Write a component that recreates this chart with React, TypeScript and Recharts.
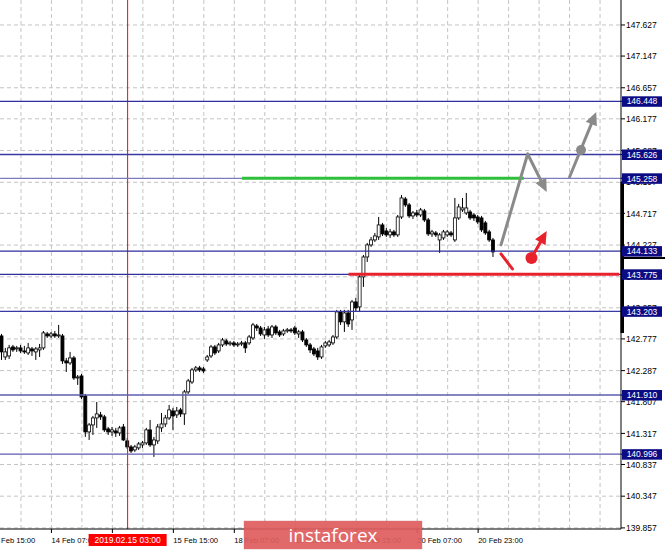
import React from "react";
import {
  Bar,
  CartesianGrid,
  ComposedChart,
  ReferenceDot,
  ReferenceLine,
  XAxis,
  YAxis,
} from "recharts";

// H1 candles, 13 Feb 18:00 .. 21 Feb 03:00
const open = [
  142.823, 142.498, 142.514, 142.653, 142.622, 142.638, 142.591, 142.56, 142.622, 142.576,
  142.607, 142.638, 142.854, 142.823, 142.854, 142.823, 142.823, 142.437, 142.406, 142.483,
  142.174, 142.205, 141.896, 141.34, 141.448, 141.556, 141.603, 141.572, 141.386, 141.34,
  141.355, 141.324, 141.417, 141.201, 141.108, 141.062, 141.093, 141.139, 141.17, 141.371,
  141.139, 141.201, 141.402, 141.463, 141.556, 141.664, 141.603, 141.68, 141.618, 141.958,
  142.112, 142.298, 142.329, 142.313, 142.452, 142.514, 142.653, 142.591, 142.684, 142.746,
  142.699, 142.715, 142.684, 142.699, 142.715, 142.715, 142.792, 142.977, 142.946, 142.838,
  142.931, 142.838, 142.962, 142.885, 142.854, 142.9, 142.916, 142.946, 142.854, 142.885,
  142.761, 142.684, 142.622, 142.591, 142.498, 142.669, 142.684, 142.715, 142.807, 143.194,
  143.04, 143.178, 143.07, 143.348, 143.271, 143.735, 144.043, 144.229, 144.306, 144.353,
  144.538, 144.445, 144.384, 144.43, 144.384, 144.661, 144.939, 144.847, 144.677, 144.723,
  144.692, 144.754, 144.615, 144.399, 144.414, 144.306, 144.337, 144.384, 144.414, 144.306,
  144.646, 144.77, 144.723, 144.738, 144.692, 144.661, 144.646, 144.569, 144.43, 144.306,
];
const high = [
  142.854, 142.638, 142.684, 142.684, 142.669, 142.684, 142.669, 142.715, 142.653, 142.653,
  142.699, 142.9, 142.885, 142.885, 142.9, 142.993, 142.854, 142.483, 142.576, 142.514,
  142.22, 142.236, 141.927, 141.479, 141.587, 141.803, 141.649, 141.603, 141.417, 141.417,
  141.402, 141.433, 141.463, 141.247, 141.139, 141.139, 141.185, 141.201, 141.402, 141.525,
  141.263, 141.463, 141.633, 141.603, 141.757, 141.711, 141.726, 141.711, 141.989, 142.159,
  142.329, 142.36, 142.36, 142.344, 142.529, 142.684, 142.684, 142.715, 142.792, 142.777,
  142.746, 142.746, 142.73, 142.746, 142.746, 142.838, 143.024, 143.008, 142.977, 142.962,
  142.977, 142.993, 142.993, 142.916, 142.931, 142.946, 142.946, 142.977, 142.916, 142.916,
  142.792, 142.715, 142.653, 142.638, 142.684, 142.746, 142.761, 142.838, 143.225, 143.225,
  143.225, 143.225, 143.379, 143.41, 143.765, 144.074, 144.26, 144.353, 144.414, 144.661,
  144.569, 144.491, 144.476, 144.461, 144.692, 145.001, 144.97, 144.877, 144.754, 144.77,
  144.8, 144.785, 144.646, 144.461, 144.445, 144.414, 144.461, 144.461, 144.445, 144.955,
  144.862, 144.955, 145.032, 144.77, 144.723, 144.692, 144.677, 144.6, 144.461, 144.337,
];
const low = [
  142.452, 142.452, 142.467, 142.576, 142.576, 142.56, 142.545, 142.529, 142.514, 142.452,
  142.498, 142.607, 142.792, 142.792, 142.792, 142.792, 142.391, 142.267, 142.375, 142.143,
  142.066, 141.849, 141.263, 141.216, 141.293, 141.402, 141.525, 141.34, 141.293, 141.278,
  141.263, 141.278, 141.201, 141.077, 141.015, 141.031, 141.062, 141.093, 141.139, 141.108,
  140.954, 141.154, 141.34, 141.417, 141.525, 141.371, 141.556, 141.572, 141.448, 141.927,
  142.081, 142.267, 142.267, 142.251, 142.421, 142.483, 142.529, 142.56, 142.653, 142.669,
  142.669, 142.653, 142.653, 142.669, 142.56, 142.684, 142.761, 142.9, 142.823, 142.777,
  142.807, 142.792, 142.838, 142.807, 142.823, 142.87, 142.87, 142.838, 142.792, 142.73,
  142.653, 142.56, 142.514, 142.452, 142.467, 142.638, 142.653, 142.684, 142.777, 142.993,
  142.885, 142.962, 142.916, 143.209, 143.194, 143.58, 143.966, 144.198, 144.275, 144.306,
  144.368, 144.353, 144.337, 144.353, 144.353, 144.63, 144.816, 144.646, 144.63, 144.661,
  144.661, 144.584, 144.368, 144.353, 144.353, 144.105, 144.306, 144.353, 144.353, 144.275,
  144.615, 144.738, 144.692, 144.615, 144.6, 144.553, 144.43, 144.384, 144.275, 144.043,
];
const close = [
  142.576, 142.576, 142.638, 142.607, 142.638, 142.591, 142.576, 142.638, 142.591, 142.622,
  142.638, 142.87, 142.823, 142.854, 142.823, 142.838, 142.437, 142.406, 142.483, 142.174,
  142.189, 141.88, 141.34, 141.448, 141.556, 141.618, 141.572, 141.371, 141.34, 141.371,
  141.324, 141.402, 141.216, 141.108, 141.046, 141.108, 141.154, 141.17, 141.371, 141.139,
  141.216, 141.417, 141.463, 141.556, 141.68, 141.587, 141.664, 141.618, 141.958, 142.128,
  142.298, 142.329, 142.298, 142.282, 142.498, 142.653, 142.56, 142.684, 142.761, 142.699,
  142.715, 142.684, 142.699, 142.715, 142.638, 142.807, 142.993, 142.946, 142.854, 142.916,
  142.838, 142.962, 142.87, 142.838, 142.9, 142.916, 142.9, 142.87, 142.885, 142.761,
  142.684, 142.607, 142.545, 142.498, 142.653, 142.715, 142.73, 142.807, 143.194, 143.04,
  143.178, 143.008, 143.348, 143.256, 143.735, 144.043, 144.229, 144.306, 144.368, 144.538,
  144.399, 144.384, 144.43, 144.384, 144.661, 144.955, 144.847, 144.677, 144.723, 144.692,
  144.77, 144.615, 144.399, 144.43, 144.384, 144.384, 144.43, 144.43, 144.384, 144.646,
  144.816, 144.8, 144.8, 144.646, 144.646, 144.584, 144.461, 144.414, 144.306, 144.121,
];

const SLOTS = 163; // candles + empty space on the right
const gridIdx = Array.from({ length: 20 }, (_, k) => 5 + k * 8);
const xTickIdx = [13, 29, 45, 61, 77, 93, 109, 125];
const xTickLabels = [
  "14 Feb 07:00",
  "14 Feb 23:00",
  "15 Feb 15:00",
  "18 Feb 07:00",
  "18 Feb 23:00",
  "19 Feb 15:00",
  "20 Feb 07:00",
  "20 Feb 23:00",
];
const firstLabel = "13 Feb 15:00";

const yTicks = [
  147.627, 147.147, 146.657, 146.177, 145.687, 145.197, 144.717, 144.227, 143.737,
  143.257, 142.777, 142.287, 141.807, 141.317, 140.837, 140.347, 139.857,
];
const levels = [146.448, 145.626, 145.258, 144.133, 143.775, 143.203, 141.91, 140.996];
const levelColors = ["#2e2e9c", "#3a3aa4", "#7c7cc0", "#2e2e9c", "#2e2e9c", "#3a3aa4", "#5c5cb0", "#5c5cb0"];

const cursorIdx = 33;
const cursorLabel = "2019.02.15 03:00";
const green = { from: 63, to: 137, price: 145.258 };
const redLevel = { from: 91, to: 162, price: 143.775 };
const bidPrice = 144.027;
const rangeBar = [142.868, 145.201];
const Y_DOMAIN = [139.84, 148.013];

// forecast arrows: [index, price]
const grayUp = [
  [131, 144.229],
  [138, 145.634],
];
const grayDown = [
  [138, 145.634],
  [143, 145.047],
];
const grayBreak = [
  [149, 145.279],
  [156, 146.283],
];
const grayDot = [152, 145.696];
const redDash = [
  [131, 144.09],
  [134, 143.858],
];
const redArrow = [
  [139, 144.028],
  [143, 144.445],
];

const FONT = "'Liberation Sans', Arial, sans-serif";
const W = 665;
const H = 551;
const PLOT_W = 621;
const PLOT_H = 529;

const data = Array.from({ length: SLOTS }, (_, i) =>
  i < open.length
    ? { i, open: open[i], high: high[i], low: low[i], close: close[i] }
    : { i }
);

const Candle = (props: any) => {
  const { x, y, width, height, payload } = props;
  if (!payload || payload.high == null) return <g />;
  const top0 = Math.min(y, y + height);
  const h = Math.abs(height);
  const span = payload.high - payload.low || 1;
  const py = (p: number) => top0 + ((payload.high - p) / span) * h;
  const cx = x + width / 2;
  const bTop = py(Math.max(payload.open, payload.close));
  const bBot = py(Math.min(payload.open, payload.close));
  const bull = payload.close >= payload.open;
  return (
    <g>
      <line x1={cx} x2={cx} y1={top0} y2={top0 + h} stroke="#000" strokeWidth={1} />
      <rect
        x={x}
        y={bTop}
        width={width}
        height={Math.max(bBot - bTop, 1)}
        fill={bull ? "#fff" : "#000"}
        stroke="#000"
        strokeWidth={0.8}
      />
    </g>
  );
};

// x ticks: labels every 16 bars, cursor date box drawn last
const XTick = (props: any) => {
  const { x, y, payload } = props;
  if (payload.value === cursorIdx) {
    return (
      <g>
        <rect x={x - 39} y={y - 1} width={78} height={12} fill="#ff0000" />
        <text x={x} y={y + 8} textAnchor="middle" fontSize={8.5} fontFamily={FONT} fill="#fff">
          {cursorLabel}
        </text>
      </g>
    );
  }
  const k = xTickIdx.indexOf(payload.value);
  if (k < 0) return <g />;
  const band = PLOT_W / SLOTS;
  return (
    <g>
      <line x1={x} x2={x} y1={y - 6} y2={y - 2} stroke="#000" />
      <text x={x} y={y + 8} fontSize={7.6} fontFamily={FONT} fill="#000">
        {xTickLabels[k]}
      </text>
      {k === 0 && (
        <text x={x - 16 * band} y={y + 8} fontSize={7.6} fontFamily={FONT} fill="#000">
          {firstLabel}
        </text>
      )}
    </g>
  );
};

// y ticks: price scale, then the scale markers, then level boxes on top
const YTick = (props: any) => {
  const { x, y, payload } = props;
  const v = payload.value as number;
  const axisX = x - 5;
  if (v === rangeBar[1]) {
    const pxPerUnit = PLOT_H / (Y_DOMAIN[1] - Y_DOMAIN[0]);
    return (
      <rect x={axisX - 0.5} y={y} width={3.5} height={(rangeBar[1] - rangeBar[0]) * pxPerUnit} fill="#000" />
    );
  }
  if (v === bidPrice) {
    return <line x1={axisX} x2={W} y1={y} y2={y} stroke="#000" strokeWidth={2} />;
  }
  if (levels.includes(v)) {
    return (
      <g>
        <rect x={x - 4} y={y - 5} width={40} height={10.5} fill="#0b0b84" />
        <text x={x + 16} y={y + 3.2} textAnchor="middle" fontSize={8.5} fontFamily={FONT} fill="#fff">
          {v.toFixed(3)}
        </text>
      </g>
    );
  }
  return (
    <text x={x} y={y + 3.2} fontSize={8.5} fontFamily={FONT} fill="#000">
      {v.toFixed(3)}
    </text>
  );
};

const arrowShape = (color: string, width: number, head: boolean) => (p: any) => {
  const { x1, y1, x2, y2 } = p;
  if (![x1, y1, x2, y2].every((v) => typeof v === "number")) return <g />;
  const dx = x2 - x1;
  const dy = y2 - y1;
  const len = Math.hypot(dx, dy) || 1;
  const ux = dx / len;
  const uy = dy / len;
  const L = head ? 13 : 0;
  const bx = x2 - ux * L;
  const by = y2 - uy * L;
  const nx = -uy * 6;
  const ny = ux * 6;
  return (
    <g>
      <line x1={x1} y1={y1} x2={head ? bx + ux : x2} y2={head ? by + uy : y2} stroke={color} strokeWidth={width} strokeLinecap="round" />
      {head && (
        <polygon points={`${x2},${y2} ${bx + nx},${by + ny} ${bx - nx},${by - ny}`} fill={color} />
      )}
    </g>
  );
};

const seg = (pts: number[][]) => pts.map(([x, y]) => ({ x, y }));

export default function App() {
  return (
    <div
      style={{
        position: "absolute",
        left: 0,
        top: 0,
        width: W,
        height: H,
        background: "#fff",
        overflow: "hidden",
      }}
    >
      <ComposedChart
        width={W}
        height={H}
        data={data}
        margin={{ top: 0, right: 0, bottom: 0, left: 0 }}
      >
        <CartesianGrid
          stroke="#c4c4c4"
          strokeDasharray="4 3"
          horizontalValues={yTicks}
          verticalValues={gridIdx}
        />
        <XAxis
          dataKey="i"
          ticks={[...xTickIdx, cursorIdx]}
          interval={0}
          height={22}
          tickSize={4}
          tickMargin={2}
          tickLine={false}
          axisLine={{ stroke: "#000" }}
          tick={<XTick />}
        />
        <YAxis
          orientation="right"
          width={44}
          type="number"
          domain={Y_DOMAIN}
          allowDataOverflow
          ticks={[...yTicks, rangeBar[1], bidPrice, ...levels]}
          interval={0}
          tickSize={4}
          tickMargin={1}
          axisLine={{ stroke: "#000" }}
          tickLine={{ stroke: "#000" }}
          tick={<YTick />}
        />
        <Bar
          dataKey={(d: any) => (d.open == null ? null : [d.low, d.high])}
          barSize={3}
          shape={<Candle />}
          isAnimationActive={false}
        />
        <ReferenceLine x={cursorIdx} stroke="#ff0000" strokeWidth={1} />
        {levels.map((v, k) => (
          <ReferenceLine key={v} y={v} stroke={levelColors[k]} strokeWidth={1.3} />
        ))}
        <ReferenceLine
          segment={[
            { x: green.from, y: green.price },
            { x: green.to, y: green.price },
          ]}
          stroke="#2fbf3a"
          strokeWidth={3}
        />
        <ReferenceLine
          segment={[
            { x: redLevel.from, y: redLevel.price },
            { x: redLevel.to, y: redLevel.price },
          ]}
          stroke="#e8222c"
          strokeWidth={3}
        />
        <ReferenceLine segment={seg(grayUp)} shape={arrowShape("#8a8a8a", 3, false)} />
        <ReferenceLine segment={seg(grayDown)} shape={arrowShape("#8a8a8a", 3, true)} />
        <ReferenceLine segment={seg(grayBreak)} shape={arrowShape("#8a8a8a", 3, true)} />
        <ReferenceDot x={grayDot[0]} y={grayDot[1]} r={5} fill="#8a8a8a" stroke="none" />
        <ReferenceLine segment={seg(redDash)} shape={arrowShape("#e8222c", 3, false)} />
        <ReferenceLine segment={seg(redArrow)} shape={arrowShape("#e8222c", 3, true)} />
        <ReferenceDot x={redArrow[0][0]} y={redArrow[0][1]} r={6} fill="#e8222c" stroke="none" />
      </ComposedChart>
      <div
        style={{
          position: "absolute",
          left: 244,
          top: 521,
          width: 178,
          height: 28,
          background: "rgba(222, 92, 92, 0.92)",
          boxShadow: "0 0 1px rgba(120,0,0,0.6)",
          color: "#fff",
          fontFamily: "'Open Sans', sans-serif",
          fontSize: 19,
          lineHeight: "28px",
          textAlign: "center",
        }}
      >
        instaforex
      </div>
    </div>
  );
}
